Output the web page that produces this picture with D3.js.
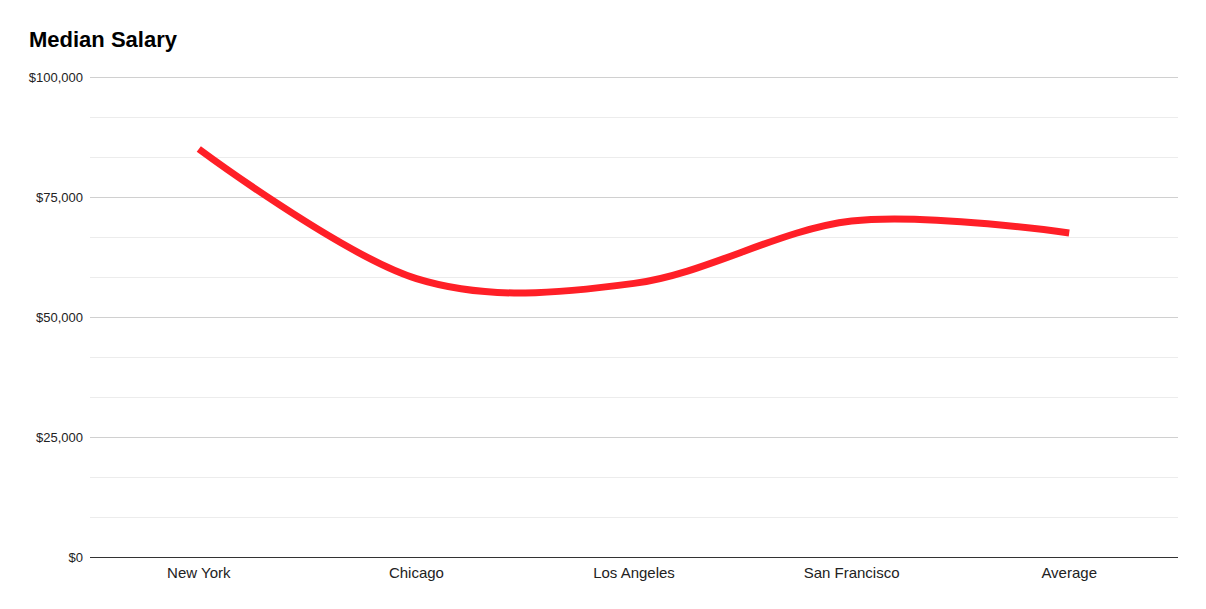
<!DOCTYPE html>
<html>
<head>
<meta charset="utf-8">
<script src="https://cdn.jsdelivr.net/npm/d3@7"></script>
<style>
  body { margin: 0; background: #fff; }
  text { font-family: "Liberation Sans", Arial, sans-serif; }
</style>
</head>
<body>
<svg id="chart" width="1206" height="609"></svg>
<script>
// data
const cities = ["New York", "Chicago", "Los Angeles", "San Francisco", "Average"]
const salary = [85000, 58000, 57000, 70000, 67500]
const majorTicks = [0, 25000, 50000, 75000, 100000]
const minorPerMajor = 3

const svg = d3.select("#chart")
const plotLeft = 90, plotRight = 1178, plotTop = 77, plotBottom = 557

const x = d3.scaleBand().domain(cities).range([plotLeft, plotRight])
const y = d3.scaleLinear().domain([0, 100000]).range([plotBottom, plotTop])
const fmt = v => "$" + d3.format(",")(v)

// minor grid values between the majors
const minorTicks = []
for (let i = 0; i < majorTicks.length - 1; i++) {
  const step = (majorTicks[i + 1] - majorTicks[i]) / minorPerMajor
  for (let k = 1; k < minorPerMajor; k++) minorTicks.push(majorTicks[i] + k * step)
}

// title
svg.append("text")
  .attr("x", 29).attr("y", 47)
  .attr("font-size", 22).attr("font-weight", "bold")
  .text("Median Salary")

// grid
svg.selectAll(".minor").data(minorTicks).join("line")
  .attr("x1", plotLeft).attr("x2", plotRight)
  .attr("y1", d => Math.round(y(d)) + 0.5).attr("y2", d => Math.round(y(d)) + 0.5)
  .attr("stroke", "#ececec")

svg.selectAll(".major").data(majorTicks.filter(d => d > 0)).join("line")
  .attr("x1", plotLeft).attr("x2", plotRight)
  .attr("y1", d => y(d) + 0.5).attr("y2", d => y(d) + 0.5)
  .attr("stroke", "#d0d0d0")

// baseline
svg.append("line")
  .attr("x1", plotLeft).attr("x2", plotRight)
  .attr("y1", y(0) + 0.5).attr("y2", y(0) + 0.5)
  .attr("stroke", "#333")

// y labels
svg.selectAll(".ylab").data(majorTicks).join("text")
  .attr("x", 83).attr("y", d => y(d) + 4.5)
  .attr("text-anchor", "end").attr("font-size", 13).attr("fill", "#222")
  .text(fmt)

// x labels
svg.selectAll(".xlab").data(cities).join("text")
  .attr("x", d => x(d) + x.bandwidth() / 2).attr("y", 578)
  .attr("text-anchor", "middle").attr("font-size", 15).attr("fill", "#222")
  .text(d => d)

// smooth line
const line = d3.line()
  .x((d, i) => x(cities[i]) + x.bandwidth() / 2)
  .y(d => y(d))
  .curve(d3.curveCardinal.tension(0))

svg.append("path")
  .datum(salary)
  .attr("d", line)
  .attr("fill", "none")
  .attr("stroke", "#ff1f27")
  .attr("stroke-width", 7)
</script>
</body>
</html>
